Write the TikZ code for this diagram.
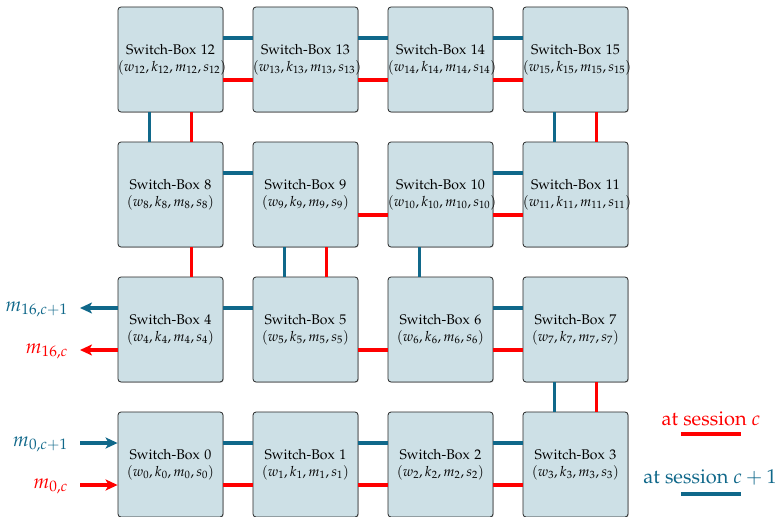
\documentclass[tikz,border=0pt]{standalone}
\usepackage[T1]{fontenc}
\usepackage{mathpazo}
\usetikzlibrary{arrows.meta,shadows}
\definecolor{sbblue}{RGB}{16,104,138}
\definecolor{sbred}{RGB}{255,0,0}
\definecolor{sbfill}{RGB}{205,224,230}
\tikzset{
  sbox/.style={draw=black!85, line width=0.8pt, rounded corners=3pt, fill=sbfill,
    minimum width=105pt, minimum height=105pt, inner sep=0pt, align=center,
    text width=105pt, font=\fontsize{14}{17}\selectfont,
    drop shadow={opacity=0.35, shadow xshift=0.8pt, shadow yshift=-0.8pt}},
  bl/.style={draw=sbblue, line width=3.4pt},
  rd/.style={draw=sbred, line width=3.4pt},
  tip/.style={-{Stealth[length=12pt,width=11pt,inset=3pt]}},
  biglab/.style={font=\fontsize{20}{24}\selectfont, inner sep=0pt},
}
\begin{document}
\begin{tikzpicture}[x=1pt,y=-1pt]
\useasboundingbox (0,0) rectangle (778,516);
% boxes
\foreach \i in {0,...,15}{
  \pgfmathtruncatemacro{\col}{mod(\i,4)}
  \pgfmathtruncatemacro{\row}{3-int(\i/4)}
  \node[sbox] (b\i) at ({170.5+135*\col},{59.5+135*\row})
    {Switch-Box \i\\$(w_{\i},k_{\i},m_{\i},s_{\i})$};
}
% horizontal connectors
\foreach \a/\b in {12/13,13/14,14/15,10/11,6/7,0/1,1/2,2/3,8/9,4/5}{
  \draw[bl] ([yshift=21.5pt]b\a.east) -- ([yshift=21.5pt]b\b.west);
}
\foreach \a/\b in {12/13,13/14,14/15,10/11,6/7,0/1,1/2,2/3,9/10,5/6}{
  \draw[rd] ([yshift=-20.5pt]b\a.east) -- ([yshift=-20.5pt]b\b.west);
}
% vertical connectors
\foreach \a/\b in {12/8,15/11,9/5,10/6,7/3}{
  \draw[bl] ([xshift=-21pt]b\a.south) -- ([xshift=-21pt]b\b.north);
}
\foreach \a/\b in {12/8,15/11,8/4,9/5,7/3}{
  \draw[rd] ([xshift=21pt]b\a.south) -- ([xshift=21pt]b\b.north);
}
% outputs
\coordinate (o1) at (80,308);
\coordinate (o2) at (80,350);
\draw[bl,tip] ([yshift=21.5pt]b4.west) -- (o1);
\draw[rd,tip] ([yshift=-20.5pt]b4.west) -- (o2);
\node[biglab, text=sbblue, anchor=base east] (lo1) at (68,311) {$m_{16,c+1}$};
\node[biglab, text=sbred, anchor=base east] (lo2) at (68,353) {$m_{16,c}$};
% inputs
\coordinate (i1) at (80,443);
\coordinate (i2) at (80,485);
\draw[bl,tip] (i1) -- ([yshift=21.5pt]b0.west);
\draw[rd,tip] (i2) -- ([yshift=-20.5pt]b0.west);
\node[biglab, text=sbblue, anchor=base east] (li1) at (68,446) {$m_{0,c+1}$};
\node[biglab, text=sbred, anchor=base east] (li2) at (68,488) {$m_{0,c}$};
% legend
\node[biglab, text=sbred, anchor=base] (legr) at (711,425) {at session $c$};
\node[biglab, text=sbblue, anchor=base] (legb) at (710,483) {at session $c+1$};
\coordinate (lr1) at (681,434);
\coordinate (lr2) at (741,434);
\coordinate (lb1) at (681,494);
\coordinate (lb2) at (741,494);
\draw[rd] (lr1) -- (lr2);
\draw[bl] (lb1) -- (lb2);
\end{tikzpicture}
\end{document}
